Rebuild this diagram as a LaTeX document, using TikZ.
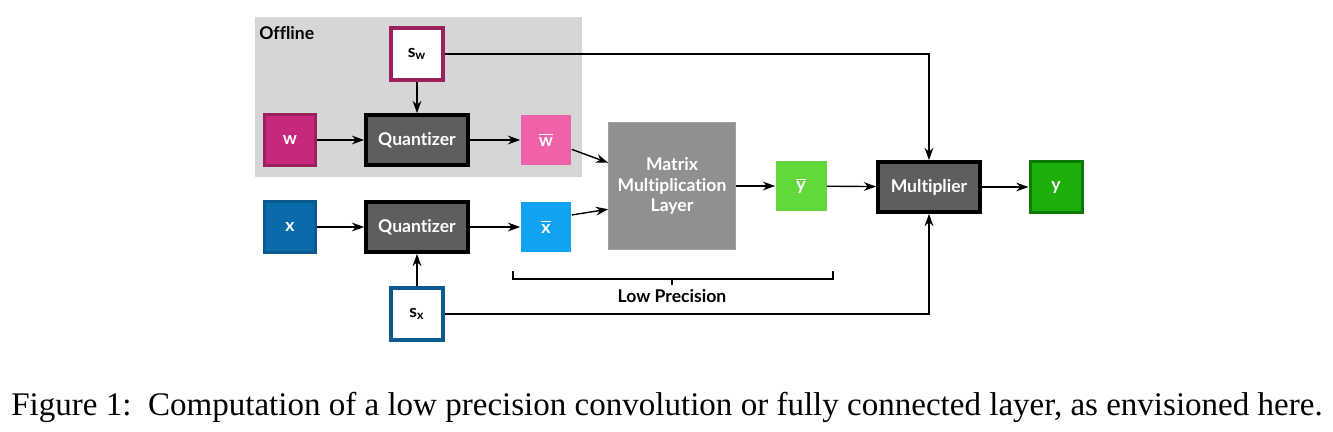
\documentclass[tikz,border=0pt]{standalone}
\usepackage{amsmath}
\usepackage{fontspec}
\setmainfont{Lato}[Ligatures={NoCommon}]
\newfontfamily\capfont{Liberation Serif}
\usetikzlibrary{arrows.meta}
\usetikzlibrary{calc}

\definecolor{offgray}{HTML}{D6D6D6}
\definecolor{wfill}{HTML}{C8287A}
\definecolor{wline}{HTML}{9C1F5E}
\definecolor{wbar}{HTML}{F062A8}
\definecolor{xfill}{HTML}{0A6BAA}
\definecolor{xline}{HTML}{0B5A8E}
\definecolor{xbar}{HTML}{12A2F2}
\definecolor{qfill}{HTML}{5E5E5E}
\definecolor{mmfill}{HTML}{909090}
\definecolor{ybar}{HTML}{62D83A}
\definecolor{yfill}{HTML}{1EB00A}
\definecolor{yline}{HTML}{0B7A00}

\begin{document}
\begin{tikzpicture}[x=0.02cm, y=-0.02cm, font=\fontsize{10}{11.5}\selectfont\bfseries,
  every node/.style={rectangle, inner sep=0pt, text=white, align=center},
  var/.style={minimum width=1.04cm, minimum height=1.04cm, line width=0.06cm},
  bar/.style={minimum width=1.02cm, minimum height=1.02cm},
  scalebox/.style={var, fill=white, text=black, line width=0.075cm},
  block/.style={minimum width=2.04cm, minimum height=1.0cm, fill=qfill, draw=black, line width=0.075cm},
  conn/.style={line width=0.8pt, -{Stealth[length=7pt, width=5pt]}}]

  \useasboundingbox (0,0) rectangle (1333,432);

  % offline part
  \fill[offgray] (255,17) rectangle (582,177);
  \node[text=black, anchor=west] (offline) at (259,33) {Offline};

  \node[scalebox, draw=wline] (sw) at (417,54) {s$_{\text{w}}$};
  \node[var, fill=wfill, draw=wline] (w) at (290,140) {w};
  \node[block] (qw) at (417,140) {Quantizer};
  \node[bar, fill=wbar] (wb) at (546,140) {$\overline{\text{w}}$};

  \node[var, fill=xfill, draw=xline] (x) at (290,227) {x};
  \node[block] (qx) at (417,227) {Quantizer};
  \node[bar, fill=xbar] (xb) at (546,227) {$\overline{\text{x}}$};
  \node[scalebox, draw=xline] (sx) at (417,314) {s$_{\text{x}}$};

  \node[minimum width=2.54cm, minimum height=2.54cm, fill=mmfill, draw=mmfill!85!white]
    (mm) at (672,186) {Matrix\\Multiplication\\Layer};
  \node[bar, fill=ybar] (yb) at (801,186) {$\overline{\text{y}}$};
  \node[block] (mult) at (929,187) {Multiplier};
  \node[var, fill=yfill, draw=yline] (y) at (1056,187) {y};

  \draw[conn] (w) -- (qw);
  \draw[conn] (qw) -- (wb);
  \draw[conn] (sw) -- (qw);
  \draw[conn] (x) -- (qx);
  \draw[conn] (qx) -- (xb);
  \draw[conn] (sx) -- (qx);
  \draw[conn] (wb.-20) -- (mm.160);
  \draw[conn] (xb.25) -- (mm.200);
  \draw[conn] (mm) -- (yb);
  \draw[conn] (yb) -- (mult);
  \draw[conn] (mult) -- (y);
  \draw[conn] (sw.east) -| (mult.north);
  \draw[conn] (sx.east) -| (mult.south);

  % low precision bracket
  \coordinate (bl) at (513,271);
  \coordinate (br) at (833,271);
  \draw[line width=0.8pt] (bl) -- ++(0,8) -| (br);
  \draw[line width=0.8pt] (672,279) -- ++(0,6);
  \node[text=black] (lowp) at (672,296) {Low Precision};

  \node[text=black, font=\capfont\fontsize{18.8}{21}\selectfont] (caption) at (667,407)
    {Figure 1:\ \ Computation of a low precision convolution or fully connected layer, as envisioned here.};
\end{tikzpicture}
\end{document}
